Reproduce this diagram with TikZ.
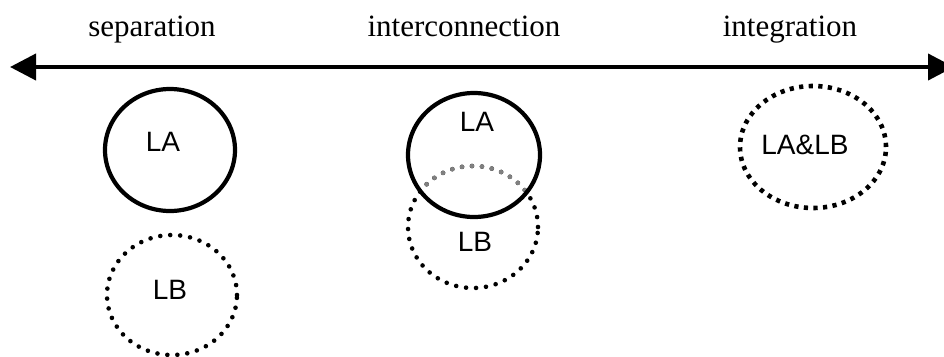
\documentclass[tikz,border=0pt]{standalone}
\usepackage{fontspec}
\setmainfont{Liberation Serif}
\newfontfamily\arialfont{Liberation Sans}
\usetikzlibrary{arrows.meta,shapes.geometric}
\begin{document}
\begin{tikzpicture}[x=1pt,y=-1pt,
  title/.style={anchor=base,inner sep=0pt,font=\fontsize{31}{36}\selectfont},
  lbl/.style={inner sep=0pt,font=\arialfont\fontsize{28}{32}\selectfont},
  solidell/.style={ellipse,draw,line width=4.2pt,inner sep=0pt},
  dotell/.style={ellipse,draw,line width=4.6pt,inner sep=0pt,dash pattern=on 0pt off 10pt,line cap=round},
  sqell/.style={ellipse,draw,line width=4.6pt,inner sep=0pt,dash pattern=on 4.2pt off 5.4pt,line cap=butt},
  axis/.style={line width=4pt,{Triangle[length=26pt,width=26pt]}-{Triangle[length=26pt,width=26pt]}}
]
\useasboundingbox (0,0) rectangle (944,356);
\clip (0,0) rectangle (944,356);
% axis
\coordinate (L) at (10,67);
\coordinate (R) at (954,67);
\draw[axis] (L) -- (R);
% titles
\node[title] (t1) at (152,36) {separation};
\node[title] (t2) at (464,36) {interconnection};
\node[title] (t3) at (790,36) {integration};
% separation
\node[solidell,minimum width=130pt,minimum height=122pt] (la1) at (170,150) {};
\node[lbl] (la1t) at (163,142) {LA};
\node[dotell,minimum width=130pt,minimum height=120pt] (lb1) at (172,295) {};
\node[lbl] (lb1t) at (170,290) {LB};
% interconnection
\node[dotell,minimum width=130pt,minimum height=122pt] (lb2) at (473,227) {};
\begin{scope}
  \clip (474,155) ellipse [x radius=64pt,y radius=60pt];
  \node[dotell,draw=gray,minimum width=130pt,minimum height=122pt] (lb2g) at (473,227) {};
\end{scope}
\node[solidell,minimum width=132pt,minimum height=124pt] (la2) at (474,155) {};
\node[lbl] (la2t) at (477,122) {LA};
\node[lbl] (lb2t) at (475,242) {LB};
% integration
\node[sqell,minimum width=146pt,minimum height=122pt] (lab) at (813,147) {};
\node[lbl] (labt) at (805,145) {LA\&LB};
\end{tikzpicture}
\end{document}
